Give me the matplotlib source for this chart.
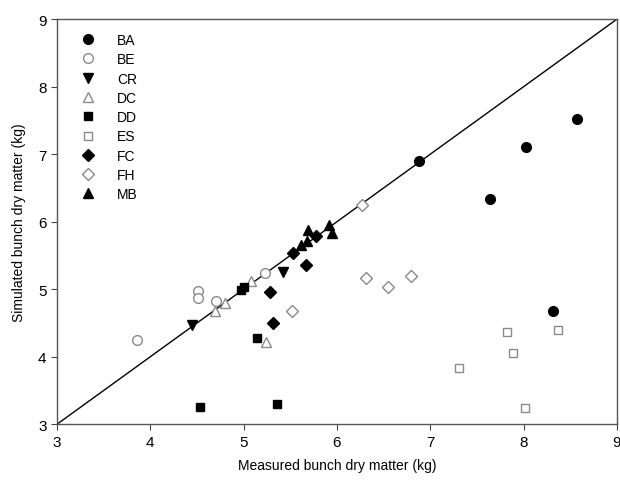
import matplotlib
matplotlib.use("Agg")
import matplotlib.pyplot as plt

plt.rcParams["font.family"] = ["Liberation Sans", "DejaVu Sans"]

# measured (x) and simulated (y) bunch dry matter, kg
ba_x = [6.88, 8.03, 8.57, 7.64, 8.31]
ba_y = [6.90, 7.10, 7.52, 6.34, 4.68]
be_x = [3.86, 4.51, 4.51, 4.70, 5.23]
be_y = [4.25, 4.97, 4.87, 4.83, 5.24]
cr_x = [4.45, 5.42]
cr_y = [4.47, 5.25]
dc_x = [4.69, 4.80, 5.08, 5.24]
dc_y = [4.68, 4.80, 5.12, 4.22]
dd_x = [4.97, 5.00, 5.14, 4.53, 5.36]
dd_y = [4.99, 5.03, 4.28, 3.26, 3.30]
es_x = [7.82, 8.37, 7.89, 7.31, 8.01]
es_y = [4.37, 4.39, 4.06, 3.84, 3.24]
fc_x = [5.53, 5.67, 5.78, 5.28, 5.31]
fc_y = [5.54, 5.36, 5.79, 4.96, 4.50]
fh_x = [6.27, 6.31, 6.55, 6.79, 5.52]
fh_y = [6.25, 5.17, 5.03, 5.19, 4.67]
mb_x = [5.61, 5.68, 5.69, 5.91, 5.95]
mb_y = [5.65, 5.72, 5.87, 5.95, 5.84]

grey = "#8a8a8a"
series = [
    ("BA", ba_x, ba_y, "o", "black", "black"),
    ("BE", be_x, be_y, "o", "white", grey),
    ("CR", cr_x, cr_y, "v", "black", "black"),
    ("DC", dc_x, dc_y, "^", "white", grey),
    ("DD", dd_x, dd_y, "s", "black", "black"),
    ("ES", es_x, es_y, "s", "white", grey),
    ("FC", fc_x, fc_y, "D", "black", "black"),
    ("FH", fh_x, fh_y, "D", "white", grey),
    ("MB", mb_x, mb_y, "^", "black", "black"),
]
sizes = {"o": 7, "v": 7, "^": 7, "s": 6, "D": 6}

fig = plt.figure(figsize=(6.2, 4.81), dpi=100)
ax = fig.add_axes([0.092, 0.116, 0.903, 0.842])

ax.plot([3, 9], [3, 9], color="black", lw=1.0, zorder=1)

for name, xs, ys, m, fc, ec in series:
    ax.plot(xs, ys, linestyle="none", marker=m, markersize=sizes[m],
            markerfacecolor=fc, markeredgecolor=ec, markeredgewidth=1.0,
            label=name, zorder=3)

ax.set_xlim(3, 9)
ax.set_ylim(3, 9)
ax.set_xticks(range(3, 10))
ax.set_yticks(range(3, 10))
ax.tick_params(direction="out", length=4, labelsize=11, color="#444444")
for s in ax.spines.values():
    s.set_color("#555555")
    s.set_linewidth(1.0)

ax.set_xlabel("Measured bunch dry matter (kg)", fontsize=10, labelpad=7)
ax.set_ylabel("Simulated bunch dry matter (kg)", fontsize=10, labelpad=9)

ax.legend(loc="upper left", bbox_to_anchor=(0.025, 0.99), frameon=False,
          fontsize=10, handlelength=1.0, handletextpad=1.6,
          labelspacing=0.38, borderaxespad=0.3)

fig.savefig("out.png", dpi=100)
